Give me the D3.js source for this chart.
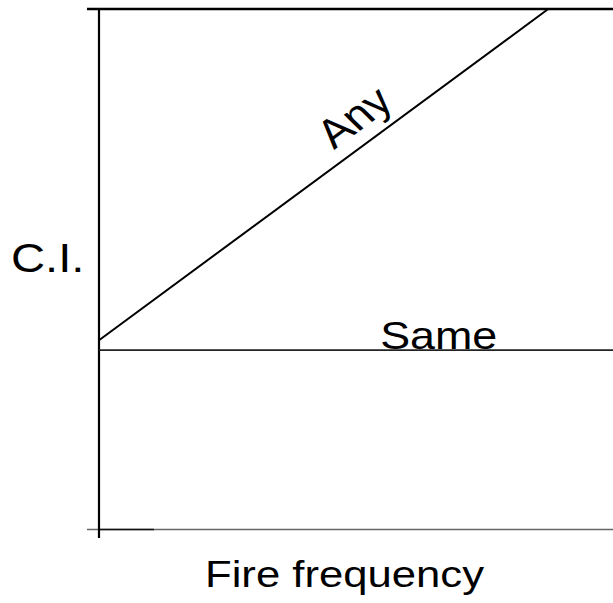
<!DOCTYPE html>
<html>
<head>
<meta charset="utf-8">
<script src="https://cdn.jsdelivr.net/npm/d3@7"></script>
<style>
  body { margin: 0; background: #fff; }
  text { font-family: "Liberation Sans", Arial, sans-serif; fill: #000; }
</style>
</head>
<body>
<svg id="chart"></svg>
<script>
//data
const lineNames = ["Any", "Same"];
const anyX = [0, 8.74];
const anyY = [3.63, 10];
const sameX = [0, 10];
const sameY = [3.44, 3.44];
const yTicks = [0, 10];
const xLabel = "Fire frequency";
const yLabel = "C.I.";

//constants
const W = 613, H = 603;
const margin = {top: 9, right: 0, bottom: 74, left: 99};
const width = W - margin.left - margin.right;
const height = H - margin.top - margin.bottom;
const stretch = 1.18; // text in the picture is wider than tall

const svg = d3.select("#chart")
    .attr("width", W)
    .attr("height", H);

//scales
const x = d3.scaleLinear().domain([0, 10]).range([margin.left, margin.left + width]);
const y = d3.scaleLinear().domain([0, 10]).range([margin.top + height, margin.top]);

//frame lines (top and bottom)
svg.append("line")
    .attr("x1", x(0) - 12).attr("x2", W)
    .attr("y1", y(10)).attr("y2", y(10))
    .attr("stroke", "#000").attr("stroke-width", 2.5);

svg.append("line")
    .attr("x1", x(0) - 12).attr("x2", W)
    .attr("y1", y(0) + 0.5).attr("y2", y(0) + 0.5)
    .attr("stroke", "#666").attr("stroke-width", 1.5);

svg.append("line")
    .attr("x1", x(0)).attr("x2", x(1.07))
    .attr("y1", y(0) + 0.5).attr("y2", y(0) + 0.5)
    .attr("stroke", "#111").attr("stroke-width", 1.5);

//y axis
const gY = svg.append("g")
    .attr("transform", "translate(" + x(0) + ",0)")
    .call(d3.axisLeft(y).tickValues(yTicks).tickSize(0).tickFormat(""));
gY.select(".domain").remove();

svg.append("line")
    .attr("x1", x(0)).attr("x2", x(0))
    .attr("y1", y(10)).attr("y2", y(0) + 9)
    .attr("stroke", "#000").attr("stroke-width", 2.2);

//lines
const line = d3.line().x(d => x(d[0])).y(d => y(d[1]));
const series = [
    {name: lineNames[0], pts: d3.zip(anyX, anyY), color: "#000", w: 2},
    {name: lineNames[1], pts: d3.zip(sameX, sameY), color: "#222", w: 1.6}
];
svg.selectAll(".series")
    .data(series)
    .enter()
    .append("path")
    .attr("class", "series")
    .attr("d", d => line(d.pts))
    .attr("fill", "none")
    .attr("stroke", d => d.color)
    .attr("stroke-width", d => d.w);

//line labels
const p0 = series[0].pts[0], p1 = series[0].pts[1];
const slope = (y(p1[1]) - y(p0[1])) / (x(p1[0]) - x(p0[0])) * stretch;
const ang = Math.atan(slope) * 180 / Math.PI;
svg.append("text")
    .attr("transform", "translate(334,150) scale(" + stretch + ",1) rotate(" + ang + ")")
    .style("font-size", "40px")
    .text(lineNames[0]);

svg.append("text")
    .attr("transform", "translate(" + x(5.47) + "," + (y(sameY[0]) - 1) + ") scale(" + stretch + ",1)")
    .style("font-size", "38px")
    .text(lineNames[1]);

//axis labels
svg.append("text")
    .attr("transform", "translate(11,272) scale(" + stretch + ",1)")
    .style("font-size", "40px")
    .text(yLabel);

svg.append("text")
    .attr("transform", "translate(205,587) scale(" + stretch + ",1)")
    .style("font-size", "37px")
    .text(xLabel);
</script>
</body>
</html>
